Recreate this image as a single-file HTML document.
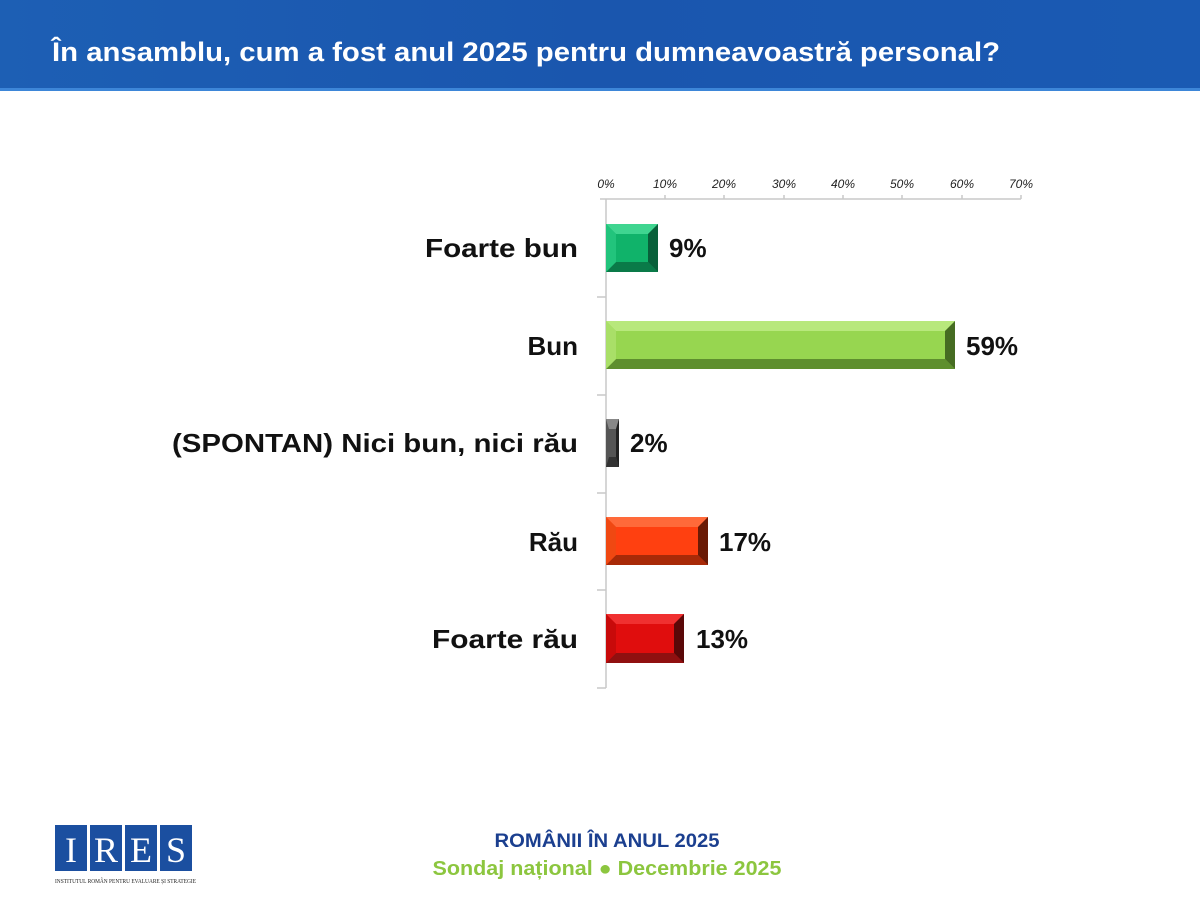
<!DOCTYPE html>
<html><head><meta charset="utf-8"><style>
html,body{margin:0;padding:0;background:#fff;}
svg{display:block;}
text{font-family:"Liberation Sans",sans-serif;}
</style></head><body>
<svg width="1200" height="900" viewBox="0 0 1200 900" xmlns="http://www.w3.org/2000/svg">
<defs>
<linearGradient id="hdr" x1="0" y1="0" x2="1" y2="0">
<stop offset="0" stop-color="#1d5fb4"/><stop offset="0.5" stop-color="#1a56ae"/><stop offset="1" stop-color="#1a5ab3"/>
</linearGradient>
</defs>
<rect x="0" y="0" width="1200" height="90" fill="url(#hdr)"/>
<rect x="0" y="88" width="1200" height="3" fill="#3d86d8"/>
<text x="52" y="61" font-size="27" font-weight="bold" fill="#fff" textLength="948" lengthAdjust="spacingAndGlyphs">În ansamblu, cum a fost anul 2025 pentru dumneavoastră personal?</text>

<!-- axis -->
<g stroke="#c8c8c8" stroke-width="1.5" fill="none">
<line x1="600" y1="199" x2="1021" y2="199"/>
<line x1="606" y1="199" x2="606" y2="688"/>
<line x1="665" y1="195" x2="665" y2="199"/><line x1="724" y1="195" x2="724" y2="199"/>
<line x1="784" y1="195" x2="784" y2="199"/><line x1="843" y1="195" x2="843" y2="199"/>
<line x1="902" y1="195" x2="902" y2="199"/><line x1="962" y1="195" x2="962" y2="199"/>
<line x1="1021" y1="195" x2="1021" y2="199"/>
<line x1="597" y1="297" x2="606" y2="297"/><line x1="597" y1="395" x2="606" y2="395"/>
<line x1="597" y1="493" x2="606" y2="493"/><line x1="597" y1="590" x2="606" y2="590"/>
<line x1="597" y1="688" x2="606" y2="688"/>
</g>
<g font-size="12" font-style="italic" fill="#222" text-anchor="middle">
<text x="606" y="188">0%</text><text x="665" y="188">10%</text><text x="724" y="188">20%</text>
<text x="784" y="188">30%</text><text x="843" y="188">40%</text><text x="902" y="188">50%</text>
<text x="962" y="188">60%</text><text x="1021" y="188">70%</text>
</g>

<!-- bars -->
<!-- helper: bevel bars -->
<g>
<rect x="606" y="224" width="52" height="48" fill="#10b36a"/>
<polygon points="606,224 658,224 648,234 616,234" fill="#3fd590"/>
<polygon points="606,272 658,272 648,262 616,262" fill="#0a7a48"/>
<polygon points="658,224 658,272 648,262 648,234" fill="#08603a"/>
<polygon points="606,224 606,272 616,262 616,234" fill="#22c47c"/>

<rect x="606" y="321" width="349" height="48" fill="#97d650"/>
<polygon points="606,321 955,321 945,331 616,331" fill="#b8e87c"/>
<polygon points="606,369 955,369 945,359 616,359" fill="#5e8f2e"/>
<polygon points="955,321 955,369 945,359 945,331" fill="#466c22"/>
<polygon points="606,321 606,369 616,359 616,331" fill="#a9df68"/>

<rect x="606" y="419" width="13" height="48" fill="#555"/>
<polygon points="606,419 619,419 616,429 609,429" fill="#888"/>
<polygon points="606,467 619,467 616,457 609,457" fill="#333"/>
<polygon points="619,419 619,467 616,457 616,429" fill="#222"/>

<rect x="606" y="517" width="102" height="48" fill="#ff4010"/>
<polygon points="606,517 708,517 698,527 616,527" fill="#ff6a3a"/>
<polygon points="606,565 708,565 698,555 616,555" fill="#a82a08"/>
<polygon points="708,517 708,565 698,555 698,527" fill="#6a1a05"/>
<polygon points="606,517 606,565 616,555 616,527" fill="#f04812"/>

<rect x="606" y="614" width="78" height="49" fill="#e00d0d"/>
<polygon points="606,614 684,614 674,624 616,624" fill="#f03030"/>
<polygon points="606,663 684,663 674,653 616,653" fill="#901010"/>
<polygon points="684,614 684,663 674,653 674,624" fill="#5a0808"/>
<polygon points="606,614 606,663 616,653 616,624" fill="#c80a0a"/>
</g>

<g font-size="26" font-weight="bold" fill="#111">
<text x="669" y="257">9%</text>
<text x="966" y="355">59%</text>
<text x="630" y="452">2%</text>
<text x="719" y="551">17%</text>
<text x="696" y="648">13%</text>
</g>
<g font-size="26" font-weight="bold" fill="#111" text-anchor="end">
<text x="578" y="257" textLength="153" lengthAdjust="spacingAndGlyphs">Foarte bun</text>
<text x="578" y="355">Bun</text>
<text x="578" y="452" textLength="406" lengthAdjust="spacingAndGlyphs">(SPONTAN) Nici bun, nici rău</text>
<text x="578" y="551">Rău</text>
<text x="578" y="648" textLength="146" lengthAdjust="spacingAndGlyphs">Foarte rău</text>
</g>

<!-- logo -->
<g>
<rect x="55" y="825" width="32" height="46" fill="#1b4fa0"/>
<rect x="90" y="825" width="32" height="46" fill="#1b4fa0"/>
<rect x="125" y="825" width="32" height="46" fill="#1b4fa0"/>
<rect x="160" y="825" width="32" height="46" fill="#1b4fa0"/>
<g font-family="Liberation Serif,serif" font-size="36" fill="#fff" text-anchor="middle">
<text x="71" y="862" style="font-family:'Liberation Serif',serif">I</text>
<text x="106" y="862" style="font-family:'Liberation Serif',serif">R</text>
<text x="141" y="862" style="font-family:'Liberation Serif',serif">E</text>
<text x="176" y="862" style="font-family:'Liberation Serif',serif">S</text>
</g>
<text x="55" y="883" font-size="6" fill="#222" textLength="141" lengthAdjust="spacingAndGlyphs" style="font-family:'Liberation Serif',serif">INSTITUTUL ROMÂN PENTRU EVALUARE ȘI STRATEGIE</text>
</g>
<text x="607" y="847" font-size="19" font-weight="bold" fill="#1b3f8f" text-anchor="middle" textLength="225" lengthAdjust="spacingAndGlyphs">ROMÂNII ÎN ANUL 2025</text>
<text x="607" y="875" font-size="20" font-weight="bold" fill="#8cc63f" text-anchor="middle" textLength="349" lengthAdjust="spacingAndGlyphs">Sondaj național ● Decembrie 2025</text>
</svg>
</body></html>
